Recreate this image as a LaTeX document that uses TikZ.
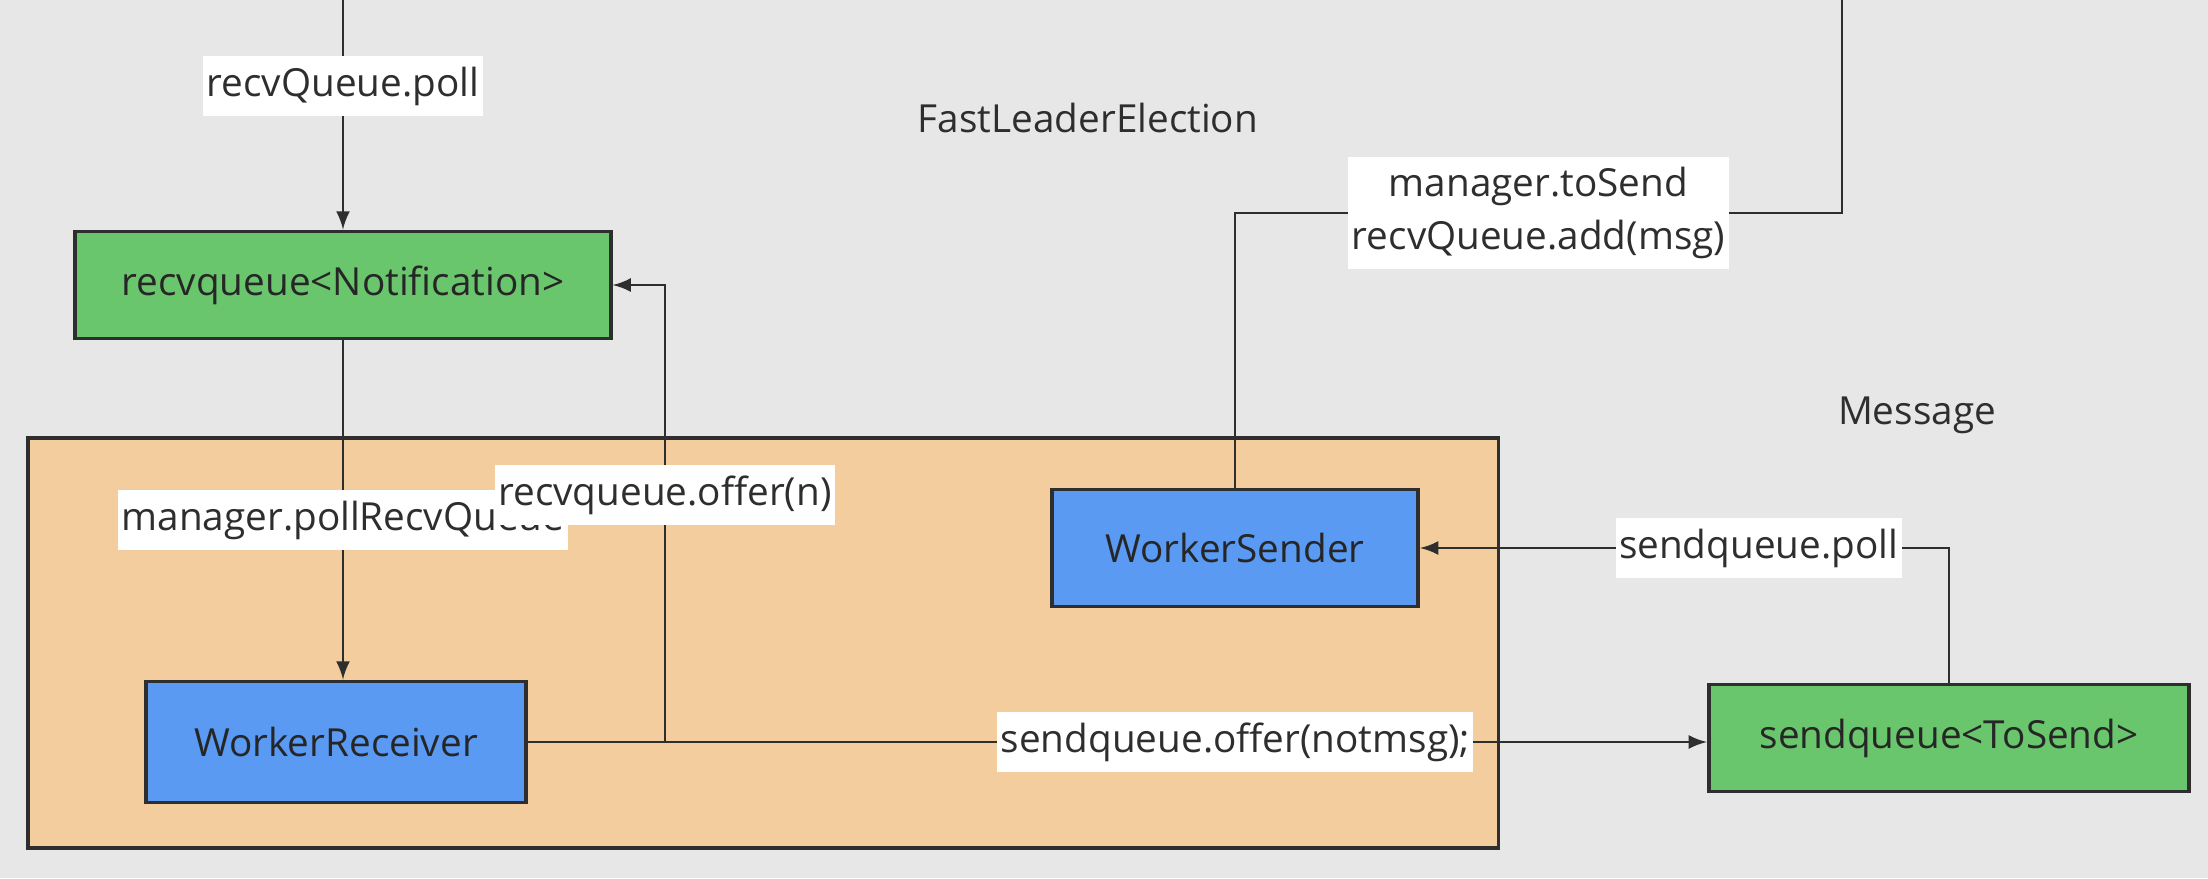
\documentclass[tikz,border=0pt]{standalone}
\usepackage{fontspec}
\setmainfont{Open Sans}
\definecolor{bgcol}{HTML}{E7E7E7}
\definecolor{qgreen}{HTML}{6AC66C}
\definecolor{wblue}{HTML}{5A9AF2}
\definecolor{fleorange}{HTML}{F4CD9E}
\definecolor{inkcol}{HTML}{2E2E2E}
\tikzset{
        queue/.style={draw=inkcol, line width=1.1pt, fill=qgreen, text=black!85},
        worker/.style={draw=inkcol, line width=1.1pt, fill=wblue, text=black!85},
        lbl/.style={fill=white, text=inkcol, inner xsep=1pt, inner ysep=3pt, align=center},
        flow/.style={draw=inkcol, line width=0.8pt, -latex},
        link/.style={draw=inkcol, line width=0.8pt}
}

\begin{document}
\begin{tikzpicture}[x=0.01cm, y=-0.01cm, font=\fontsize{11}{15}\selectfont]
        \fill[bgcol] (0,0) rectangle (2208,878);
        \useasboundingbox (0,0) rectangle (2208,878);
        \node[draw=inkcol, line width=1.1pt, fill=fleorange, minimum width=14.7cm, minimum height=4.1cm] (fle) at (763,643) {};
        \node[queue, minimum width=5.35cm, minimum height=1.07cm] (recvq) at (343,285) {recvqueue<Notification>};
        \node[worker, minimum width=3.8cm, minimum height=1.21cm] (recv) at (336,742) {WorkerReceiver};
        \node[worker, minimum width=3.66cm, minimum height=1.17cm] (sender) at (1235,548) {WorkerSender};
        \node[queue, minimum width=4.8cm, minimum height=1.07cm] (sendq) at (1949,738) {sendqueue<ToSend>};
        \node[text=inkcol] (felabel) at (1088,118) {FastLeaderElection};
        \node[text=inkcol] (msglabel) at (1917,415) {Message};
        \coordinate (topin) at (343,0);
        \coordinate (topout) at (1842,0);
        \coordinate (fork) at (1842,213);
        \coordinate (split) at (665,742);
        \draw[flow] (topin) -- (recvq.north) node[lbl, pos=0.375] {recvQueue.poll};
        \draw[flow] (recvq.south) -- (recvq.south |- recv.north) node[lbl, pos=0.53] {manager.pollRecvQueue};
        \draw[flow] (recv.east) -- (recv.east -| sendq.west) node[lbl, pos=0.6] {sendqueue.offer(notmsg);};
        \draw[flow] (split) |- (recvq.east) node[lbl, pos=0.27] {recvqueue.offer(n)};
        \draw[link] (sender.north) |- (fork) node[lbl, pos=0.75] {manager.toSend\\recvQueue.add(msg)} -- (topout);
        \draw[flow] (sendq.north) |- (sender.east) node[lbl, pos=0.68] {sendqueue.poll};
\end{tikzpicture}
\end{document}
